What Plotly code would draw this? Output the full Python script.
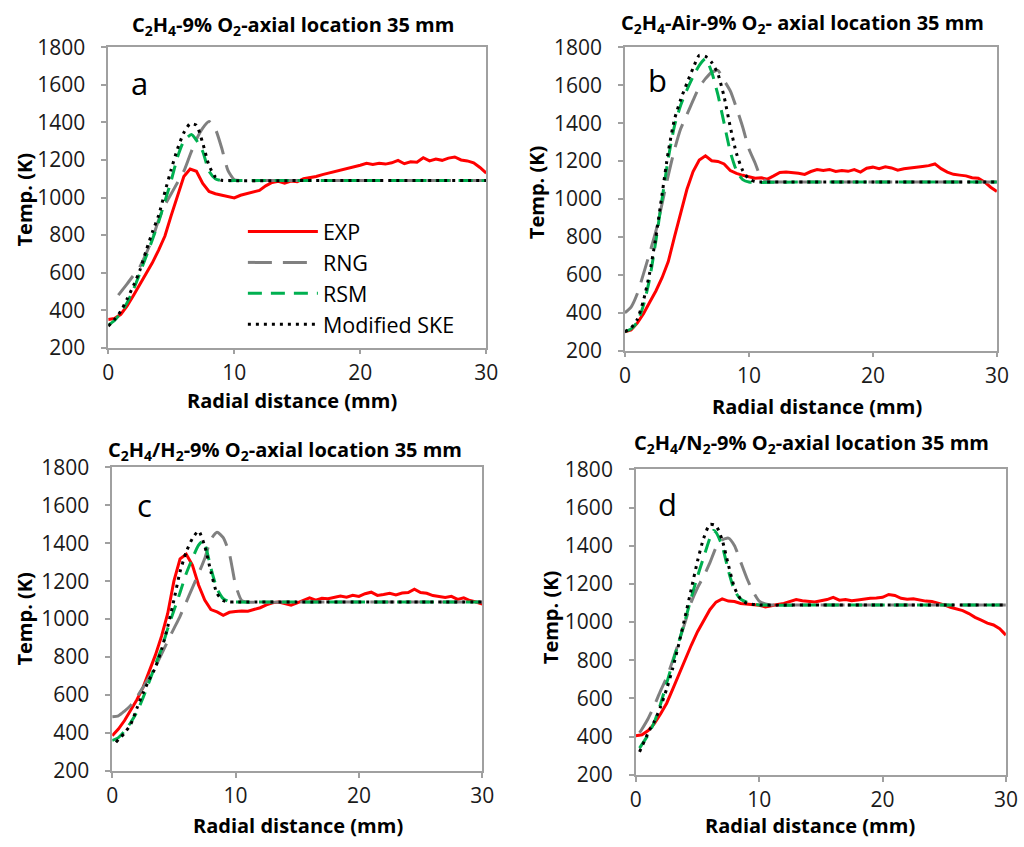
import plotly.graph_objects as go

# ---------------- data ----------------
R_EXP = [i * 0.5 for i in range(61)]  # radial positions of experimental points (mm)

# Panel a: C2H4-9% O2
EXP_A = [350, 355, 378, 422, 478, 535, 595, 652, 720, 795,
         905, 1010, 1112, 1152, 1140, 1075, 1032, 1020, 1012, 1008,
         998, 1012, 1020, 1028, 1038, 1062, 1080, 1086, 1076, 1088,
         1084, 1100, 1105, 1112, 1122, 1130, 1140, 1145, 1155, 1165,
         1172, 1182, 1176, 1182, 1178, 1185, 1198, 1180, 1190, 1188,
         1212, 1195, 1205, 1198, 1210, 1216, 1200, 1195, 1185, 1160,
         1130]
RNG_A_X = [0.8, 1.5, 2, 2.5, 3, 3.5, 4, 4.5, 5, 5.5, 6, 6.5, 7, 7.5, 8, 8.5, 9, 9.5, 10, 10.5, 12, 15, 20, 25, 30]
RNG_A = [480, 540, 585, 630, 700, 780, 880, 960, 1020, 1080, 1140, 1228, 1310, 1370, 1405, 1365, 1265, 1145, 1095, 1090, 1090, 1090, 1090, 1090, 1090]
RSM_A_X = [0, 0.5, 1, 1.5, 2, 2.5, 3, 3.5, 4, 4.5, 5, 5.5, 6, 6.6, 7, 7.5, 8, 8.5, 9, 10, 15, 20, 25, 30]
RSM_A = [320, 345, 385, 440, 510, 595, 685, 775, 870, 980, 1090, 1215, 1300, 1335, 1305, 1245, 1140, 1100, 1090, 1090, 1090, 1090, 1090, 1090]
SKE_A_X = [0, 0.5, 1, 1.5, 2, 2.5, 3, 3.5, 4, 4.5, 5, 5.5, 6, 6.5, 7, 7.5, 8, 8.5, 9, 10, 15, 20, 25, 30]
SKE_A = [315, 350, 395, 460, 530, 610, 715, 815, 905, 1030, 1150, 1260, 1345, 1393, 1385, 1290, 1170, 1110, 1092, 1090, 1090, 1090, 1090, 1090]

# Panel b: C2H4-Air-9% O2
EXP_B = [300, 310, 345, 395, 455, 515, 585, 670, 800, 930,
         1050, 1145, 1205, 1228, 1202, 1198, 1185, 1150, 1135, 1125,
         1118, 1110, 1112, 1105, 1122, 1140, 1142, 1140, 1136, 1130,
         1145, 1155, 1150, 1156, 1145, 1150, 1146, 1155, 1142, 1162,
         1168, 1160, 1170, 1164, 1152, 1160, 1166, 1168, 1172, 1176,
         1185, 1160, 1142, 1130, 1126, 1122, 1112, 1110, 1090, 1062,
         1040]
RNG_B_X = [0, 0.5, 1, 1.5, 2, 2.5, 3, 3.5, 4, 4.5, 5, 5.5, 6, 6.5, 7, 7.5, 8, 8.5, 9, 9.5, 10, 10.5, 11, 11.5, 12, 15, 20, 25, 30]
RNG_B = [400, 430, 500, 605, 715, 830, 975, 1125, 1260, 1370, 1445, 1520, 1590, 1635, 1668, 1678, 1625, 1570, 1480, 1380, 1265, 1190, 1110, 1092, 1090, 1090, 1090, 1090, 1090]
RSM_B_X = [0, 0.5, 1, 1.5, 2, 2.5, 3, 3.5, 4, 4.5, 5, 5.5, 6, 6.5, 7, 7.5, 8, 8.5, 9, 9.5, 10, 15, 20, 25, 30]
RSM_B = [300, 315, 350, 440, 580, 780, 1000, 1215, 1385, 1495, 1575, 1645, 1705, 1740, 1670, 1550, 1400, 1250, 1150, 1102, 1090, 1090, 1090, 1090, 1090]
SKE_B_X = [0, 0.5, 1, 1.5, 2, 2.5, 3, 3.5, 4, 4.5, 5, 5.5, 6, 6.5, 7, 7.5, 8, 8.5, 9, 9.5, 10, 10.5, 11, 15, 20, 25, 30]
SKE_B = [300, 320, 365, 465, 610, 800, 1025, 1250, 1420, 1525, 1610, 1690, 1758, 1752, 1720, 1660, 1540, 1380, 1240, 1150, 1105, 1092, 1090, 1090, 1090, 1090, 1090]

# Panel c: C2H4/H2-9% O2
EXP_C = [385, 420, 465, 520, 575, 640, 720, 810, 910, 1030,
         1200, 1318, 1342, 1285, 1180, 1100, 1050, 1038, 1020, 1036,
         1040, 1043, 1042, 1050, 1060, 1075, 1086, 1090, 1080, 1074,
         1086, 1100, 1112, 1100, 1110, 1108, 1116, 1122, 1116, 1126,
         1120, 1134, 1142, 1125, 1130, 1136, 1128, 1138, 1140, 1158,
         1140, 1136, 1124, 1120, 1114, 1120, 1104, 1112, 1098, 1090,
         1080]
RNG_C_X = [0, 0.5, 1, 1.5, 2, 2.5, 3, 3.5, 4, 4.5, 5, 5.5, 6, 6.5, 7, 7.5, 8, 8.5, 9, 9.5, 10, 10.5, 11, 15, 20, 25, 30]
RNG_C = [485, 490, 515, 545, 590, 640, 695, 750, 815, 885, 950, 1015, 1090, 1165, 1240, 1320, 1420, 1458, 1430, 1345, 1180, 1098, 1090, 1090, 1090, 1090, 1090]
RSM_C_X = [0, 0.5, 1, 1.5, 2, 2.5, 3, 3.5, 4, 4.5, 5, 5.5, 6, 6.5, 7, 7.4, 7.7, 8, 8.5, 9, 9.5, 10, 15, 20, 25, 30]
RSM_C = [360, 375, 410, 455, 510, 585, 670, 760, 845, 950, 1045, 1140, 1240, 1320, 1390, 1415, 1352, 1270, 1160, 1108, 1092, 1090, 1090, 1090, 1090, 1090]
SKE_C_X = [0.3, 1, 1.5, 2, 2.5, 3, 3.5, 4, 4.5, 5, 5.5, 6, 6.5, 7, 7.5, 8, 8.5, 9, 9.5, 10, 15, 20, 25, 30]
SKE_C = [350, 400, 445, 530, 610, 680, 745, 840, 960, 1100, 1250, 1355, 1425, 1465, 1385, 1250, 1135, 1098, 1090, 1090, 1090, 1090, 1090, 1090]

# Panel d: C2H4/N2-9% O2
EXP_D = [405, 410, 432, 468, 518, 575, 650, 728, 800, 880,
         950, 1010, 1065, 1105, 1122, 1110, 1108, 1098, 1094, 1092,
         1088, 1080, 1088, 1092, 1098, 1108, 1118, 1112, 1110, 1106,
         1112, 1118, 1130, 1115, 1118, 1112, 1116, 1122, 1125, 1126,
         1130, 1145, 1140, 1125, 1120, 1122, 1116, 1110, 1108, 1100,
         1090, 1078, 1068, 1060, 1045, 1025, 1010, 995, 985, 965,
         932]
RNG_D_X = [0.3, 0.5, 1, 1.5, 2, 2.5, 3, 3.5, 4, 4.5, 5, 5.5, 6, 6.5, 7, 7.5, 8, 8.5, 9, 9.5, 10, 10.5, 11, 15, 20, 25, 30]
RNG_D = [420, 440, 495, 563, 640, 710, 800, 900, 1000, 1105, 1180, 1240, 1310, 1390, 1430, 1440, 1400, 1315, 1230, 1160, 1110, 1095, 1090, 1090, 1090, 1090, 1090]
RSM_D_X = [0.3, 1, 1.5, 2, 2.5, 3, 3.5, 4, 4.5, 5, 5.5, 6, 6.3, 6.5, 7, 7.5, 8, 8.5, 9, 10, 15, 20, 25, 30]
RSM_D = [340, 410, 476, 570, 680, 790, 900, 1010, 1130, 1240, 1340, 1440, 1480, 1470, 1400, 1270, 1165, 1120, 1104, 1090, 1090, 1090, 1090, 1090]
SKE_D_X = [0.3, 1, 1.5, 2, 2.5, 3, 3.5, 4, 4.5, 5, 5.5, 6, 6.5, 7, 7.5, 8, 8.5, 9, 10, 15, 20, 25, 30]
SKE_D = [320, 420, 480, 555, 650, 760, 890, 1030, 1175, 1320, 1440, 1512, 1505, 1430, 1300, 1180, 1120, 1098, 1090, 1090, 1090, 1090, 1090]

SERIES_NAMES = ["EXP", "RNG", "RSM", "Modified SKE"]
PANEL_LETTERS = ["a", "b", "c", "d"]
PANEL_TITLES = [
    "C<sub>2</sub>H<sub>4</sub>-9% O<sub>2</sub>-axial location 35 mm",
    "C<sub>2</sub>H<sub>4</sub>-Air-9% O<sub>2</sub>- axial location 35 mm",
    "C<sub>2</sub>H<sub>4</sub>/H<sub>2</sub>-9% O<sub>2</sub>-axial location 35 mm",
    "C<sub>2</sub>H<sub>4</sub>/N<sub>2</sub>-9% O<sub>2</sub>-axial location 35 mm",
]
X_TICKS = [0, 10, 20, 30]
Y_TICKS = [200, 400, 600, 800, 1000, 1200, 1400, 1600, 1800]
X_TITLE = "Radial distance (mm)"
Y_TITLE = "Temp. (K)"

panels = [
    (EXP_A, (RNG_A_X, RNG_A), (RSM_A_X, RSM_A), (SKE_A_X, SKE_A)),
    (EXP_B, (RNG_B_X, RNG_B), (RSM_B_X, RSM_B), (SKE_B_X, SKE_B)),
    (EXP_C, (RNG_C_X, RNG_C), (RSM_C_X, RSM_C), (SKE_C_X, SKE_C)),
    (EXP_D, (RNG_D_X, RNG_D), (RSM_D_X, RSM_D), (SKE_D_X, SKE_D)),
]

# ---------------- layout geometry ----------------
W, H = 1024, 847
FONT = "Open Sans"
AXIS_COLOR = "#A0A0A0"

# target positions in picture pixels; converted to paper fractions with a
# calibration matching how the page is photographed
CAL_X0, CAL_SX = 3.5, 0.985
CAL_Y0, CAL_SY = 11.6, 0.969

boxes = [  # (left, right, top, bottom) of each plot area
    (106, 485, 44, 345),
    (624, 997, 44, 348),
    (110, 481, 465, 769),
    (635, 1006, 467, 773),
]
title_pos = [(291, 22), (802, 20), (283, 448), (811, 441)]
letter_pos = [(137, 80), (657, 77), (142, 503), (667, 502)]
ytitle_pos = [(22, 197), (535, 190), (22, 617), (549, 616)]
xtitle_pos = [(290, 398), (817, 404), (296, 824), (810, 824)]
legend_pos = (241, 208)


def px(x):
    return ((x - CAL_X0) / CAL_SX) / W


def py(y):
    return 1 - ((y - CAL_Y0) / CAL_SY) / H


styles = [
    dict(color="#FF0000", width=3),
    dict(color="#808080", width=3, dash="24px,11px"),
    dict(color="#00B050", width=3, dash="14px,9px"),
    dict(color="#000000", width=3, dash="3px,5px"),
]

fig = go.Figure()
annotations = []
layout_axes = {}

for i, (exp, rng, rsm, ske) in enumerate(panels):
    n = "" if i == 0 else str(i + 1)
    xa, ya = "x" + n, "y" + n
    series = [(R_EXP, exp), rng, rsm, ske]
    for k, (xs, ys) in enumerate(series):
        fig.add_trace(go.Scatter(
            x=xs, y=ys, mode="lines", name=SERIES_NAMES[k],
            line=dict(**styles[k], shape="linear" if k == 0 else "spline", smoothing=0.6),
            xaxis=xa, yaxis=ya, showlegend=(i == 0), hoverinfo="skip",
        ))
    l, r, t, b = boxes[i]
    common = dict(showline=True, linecolor=AXIS_COLOR, linewidth=1.5, mirror=True,
                  ticks="outside", ticklen=5, tickcolor=AXIS_COLOR, tickwidth=1.5,
                  showgrid=False, zeroline=False,
                  tickfont=dict(family=FONT, size=21, color="#1a1a1a"))
    layout_axes["xaxis" + n] = dict(domain=[px(l), px(r)], range=[0, 30], tickvals=X_TICKS,
                                    anchor=ya, ticklabelstandoff=0, **common)
    layout_axes["yaxis" + n] = dict(domain=[py(b), py(t)], range=[200, 1800], tickvals=Y_TICKS,
                                    anchor=xa, ticklabelstandoff=12, **common)

    tx, ty = title_pos[i]
    annotations.append(dict(text="<b>" + PANEL_TITLES[i] + "</b>", x=px(tx), y=py(ty),
                            xref="paper", yref="paper", showarrow=False,
                            xanchor="center", yanchor="middle",
                            font=dict(family=FONT, size=20, color="#000")))
    lx, ly = letter_pos[i]
    annotations.append(dict(text=PANEL_LETTERS[i], x=px(lx), y=py(ly),
                            xref="paper", yref="paper", showarrow=False,
                            xanchor="center", yanchor="middle",
                            font=dict(family=FONT, size=31, color="#000")))
    yx, yy = ytitle_pos[i]
    annotations.append(dict(text="<b>" + Y_TITLE + "</b>", x=px(yx), y=py(yy),
                            xref="paper", yref="paper", showarrow=False, textangle=-90,
                            xanchor="center", yanchor="middle",
                            font=dict(family=FONT, size=20, color="#000")))
    xx, xy = xtitle_pos[i]
    annotations.append(dict(text="<b>" + X_TITLE + "</b>", x=px(xx), y=py(xy),
                            xref="paper", yref="paper", showarrow=False,
                            xanchor="center", yanchor="middle",
                            font=dict(family=FONT, size=20, color="#000")))

fig.update_layout(
    width=W, height=H, autosize=False,
    margin=dict(l=0, r=0, t=0, b=0),
    paper_bgcolor="white", plot_bgcolor="white",
    annotations=annotations,
    legend=dict(x=px(legend_pos[0]), y=py(legend_pos[1]), xanchor="left", yanchor="top",
                font=dict(family=FONT, size=21.5, color="#000"),
                bgcolor="rgba(0,0,0,0)", itemwidth=70, tracegroupgap=0),
    **layout_axes,
)

fig.write_html("out.html")
